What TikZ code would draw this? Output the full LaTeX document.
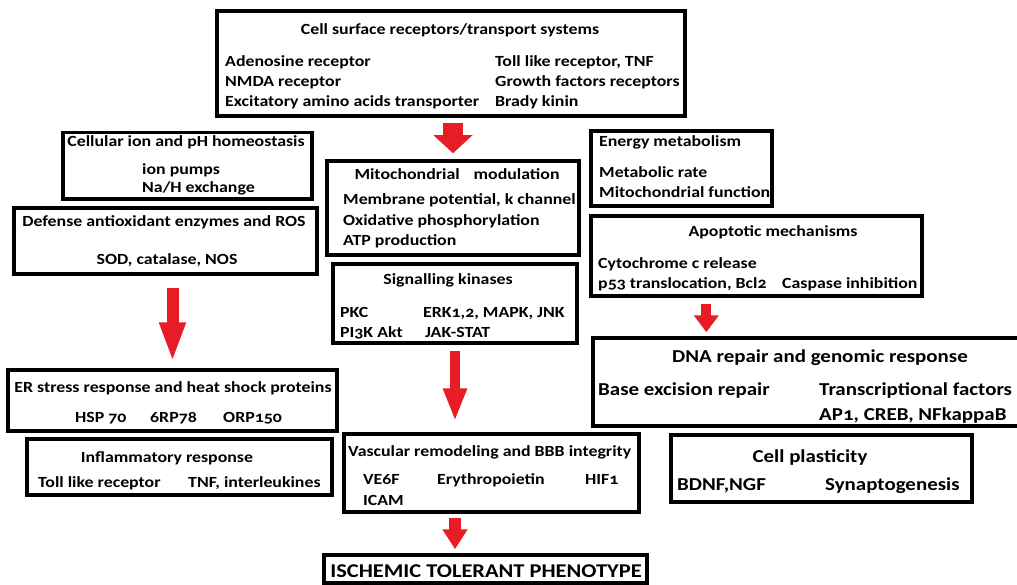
\documentclass[tikz,border=0pt]{standalone}
\usepackage{fontspec}
\setmainfont{Carlito}[Numbers=OldStyle, FakeStretch=1.15]
\usetikzlibrary{arrows.meta,calc}

\definecolor{arrowred}{RGB}{232,28,36}

\tikzset{
	box/.style={draw, line width=3.5pt, inner sep=0pt},
	ttl/.style={anchor=base, inner sep=0pt, font=\bfseries\fontsize{15.5}{17}\selectfont},
	lbl/.style={anchor=base west, inner sep=0pt, font=\bfseries\fontsize{15.5}{17}\selectfont},
	bigttl/.style={anchor=base, inner sep=0pt, font=\bfseries\fontsize{18.2}{21}\selectfont},
	biglbl/.style={anchor=base west, inner sep=0pt, font=\bfseries\fontsize{18.2}{21}\selectfont},
	redarr/.style={draw=arrowred, arrowred}
}

\begin{document}
\begin{tikzpicture}[x=1pt,y=-1pt]
	
	\useasboundingbox (0,0) rectangle (1017,585);
	
	% boxes
	\node[box, minimum width=468, minimum height=105] (top) at (451,63.5) {};
	\node[box, minimum width=249, minimum height=66.5] (ion) at (187.5,166) {};
	\node[box, minimum width=303, minimum height=66] (defense) at (165.5,241) {};
	\node[box, minimum width=252, minimum height=94] (mito) at (453,208) {};
	\node[box, minimum width=244, minimum height=79] (sig) at (455,303.5) {};
	\node[box, minimum width=181, minimum height=75] (energy) at (681.5,168.5) {};
	\node[box, minimum width=331, minimum height=80] (apop) at (756.5,256) {};
	\node[box, minimum width=329, minimum height=61] (er) at (172.5,400.5) {};
	\node[box, minimum width=305, minimum height=56] (infl) at (179.5,467) {};
	\node[box, minimum width=295, minimum height=78] (vasc) at (491.5,473) {};
	\node[box, minimum width=437, minimum height=88] (dna) at (811.5,382) {};
	\node[box, minimum width=301, minimum height=67] (plast) at (821.5,468.5) {};
	\node[box, minimum width=323, minimum height=28] (isch) at (485.5,569) {};
	
	% cell surface receptors
	\node[ttl] (topT) at (450,35) {Cell surface receptors/transport systems};
	\node[lbl] (topA) at (225,67) {Adenosine receptor};
	\node[lbl] (topB) at (225,87) {NMDA receptor};
	\node[lbl] (topC) at (225,107) {Excitatory amino acids transporter};
	\node[lbl] (topD) at (495,67) {Toll like receptor, TNF};
	\node[lbl] (topE) at (495,87) {Growth factors receptors};
	\node[lbl] (topF) at (495,107) {Brady kinin};
	
	% ion homeostasis
	\node[ttl] (ionT) at (186,146.5) {Cellular ion and pH homeostasis};
	\node[lbl] (ionA) at (142,175) {ion pumps};
	\node[lbl] (ionB) at (142,193) {Na/H exchange};
	
	% antioxidants
	\node[ttl] (defT) at (164,227) {Defense antioxidant enzymes and ROS};
	\node[ttl] (defA) at (167,265) {SOD, catalase, NOS};
	
	% mitochondria
	\node[ttl] (mitoT) at (457,180) {Mitochondrial\hspace{14pt}modulation};
	\node[lbl] (mitoA) at (343,205) {Membrane potential, k channel};
	\node[lbl] (mitoB) at (343,226) {Oxidative phosphorylation};
	\node[lbl] (mitoC) at (343,246) {ATP production};
	
	% kinases
	\node[ttl] (sigT) at (448,285) {Signalling kinases};
	\node[lbl] (sigA) at (340,317) {PKC};
	\node[lbl] (sigB) at (340,337) {PI3K Akt};
	\node[lbl] (sigC) at (423,317) {ERK1,2, MAPK, JNK};
	\node[lbl] (sigD) at (425,337) {JAK-STAT};
	
	% energy
	\node[lbl] (enT) at (599,147) {Energy metabolism};
	\node[lbl] (enA) at (599,178) {Metabolic rate};
	\node[lbl] (enB) at (599,198) {Mitochondrial function};
	
	% apoptosis
	\node[ttl] (apT) at (773,237) {Apoptotic mechanisms};
	\node[lbl] (apA) at (598,269) {Cytochrome c release};
	\node[lbl] (apB) at (598,289) {p53 translocation, Bcl2};
	\node[lbl] (apC) at (782,289) {Caspase inhibition};
	
	% ER stress
	\node[ttl] (erT) at (173,392) {ER stress response and heat shock proteins};
	\node[lbl] (erA) at (75,422) {HSP 70};
	\node[lbl] (erB) at (150,422) {6RP78};
	\node[lbl] (erC) at (223,422) {ORP150};
	
	% inflammation
	\node[ttl] (inT) at (167,462) {Inflammatory response};
	\node[lbl] (inA) at (38,487) {Toll like receptor};
	\node[lbl] (inB) at (188,487) {TNF, interleukines};
	
	% vascular
	\node[lbl] (vaT) at (348,456) {Vascular remodeling and BBB integrity};
	\node[lbl] (vaA) at (363,484) {VE6F};
	\node[lbl] (vaB) at (363,505) {ICAM};
	\node[lbl] (vaC) at (437,484) {Erythropoietin};
	\node[lbl] (vaD) at (585,484) {HIF1};
	
	% DNA repair
	\node[bigttl] (dnaT) at (820,362) {DNA repair and genomic response};
	\node[biglbl] (dnaA) at (598,395) {Base excision repair};
	\node[biglbl] (dnaB) at (819,395) {Transcriptional factors};
	\node[biglbl] (dnaC) at (819,420) {AP1, CREB, NFkappaB};
	
	% plasticity
	\node[bigttl] (plT) at (810,462) {Cell plasticity};
	\node[biglbl] (plA) at (677,490) {BDNF,NGF};
	\node[biglbl] (plB) at (825,490) {Synaptogenesis};
	
	% outcome
	\node[anchor=base, inner sep=0pt, font=\bfseries\fontsize{19.5}{22}\selectfont] (ischT) at (486,577) {ISCHEMIC TOLERANT PHENOTYPE};
	
	% red arrows
	\draw[redarr, line width=20pt, -{Triangle[width=38pt,length=18pt]}, shorten <=5pt, shorten >=6pt] (mito.north |- top.south) -- (mito.north);
	\draw[redarr, line width=12pt, -{Triangle[width=24pt,length=40pt]}, shorten <=12pt, shorten >=6pt] (er.north |- defense.south) -- (er.north);
	\draw[redarr, line width=10pt, -{Triangle[width=22pt,length=33pt]}, shorten <=6pt, shorten >=11pt] (sig.south) -- (sig.south |- vasc.north);
	\draw[redarr, line width=12pt, -{Triangle[width=24pt,length=20pt]}, shorten <=4pt, shorten >=4pt] (vasc.south -| sig.south) -- (isch.north -| sig.south);
	\coordinate (apoparr) at ($(apop.south west)!0.35!(apop.south east)$);
	\draw[redarr, line width=10pt, -{Triangle[width=24pt,length=17pt]}, shorten <=6pt, shorten >=4pt] (apoparr) -- (apoparr |- dna.north);
	
\end{tikzpicture}
\end{document}
